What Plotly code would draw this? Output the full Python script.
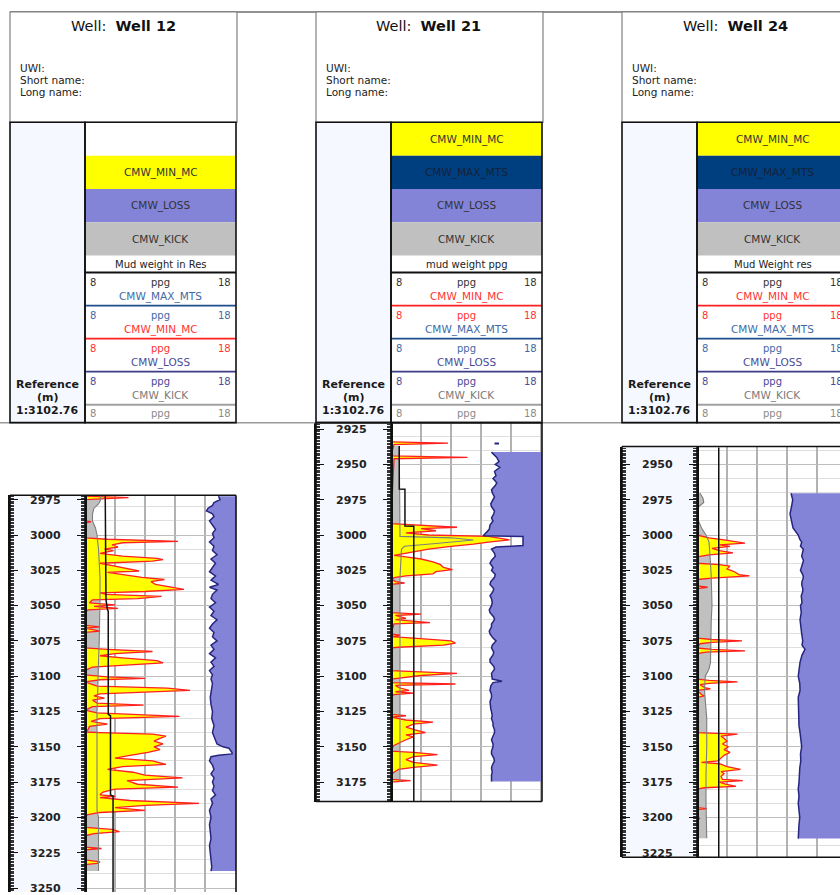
import plotly.graph_objects as go

# ---------------------------------------------------------------- data ----
WELL_NAMES = ["Well 12", "Well 21", "Well 24"]
MUD_TITLES = ["Mud weight in Res", "mud weight ppg", "Mud Weight res"]
FILL_BLOCKS = [
    ["", "CMW_MIN_MC", "CMW_LOSS", "CMW_KICK"],
    ["CMW_MIN_MC", "CMW_MAX_MTS", "CMW_LOSS", "CMW_KICK"],
    ["CMW_MIN_MC", "CMW_MAX_MTS", "CMW_LOSS", "CMW_KICK"],
]
SCALE_CURVES = [
    ["CMW_MAX_MTS", "CMW_MIN_MC", "CMW_LOSS", "CMW_KICK"],
    ["CMW_MIN_MC", "CMW_MAX_MTS", "CMW_LOSS", "CMW_KICK"],
    ["CMW_MIN_MC", "CMW_MAX_MTS", "CMW_LOSS", "CMW_KICK"],
]
SCALE_MIN, SCALE_MAX, SCALE_UNIT = 8, 18, "ppg"
REF_LABEL = ["Reference", "(m)", "1:3102.76"]

# (depth m, ppg) pairs
W12_MIN_MC = [
    (2972.5, 8.0), (2973.5, 10.9), (2975, 8.0), (2990, 8.0), (2990.5, 8.4), (2991.5, 8.0),
    (3002, 8.0), (3003, 9.5), (3004.5, 14.2), (3005.5, 10.5), (3007, 9.8), (3008.5, 10.2),
    (3010, 9.3), (3011, 9.9), (3013, 9.0), (3015, 10.5), (3016.5, 12.8), (3017.5, 13.2),
    (3018.5, 12.5), (3020, 9.0), (3022, 10.0), (3024, 11.0), (3025.5, 11.6), (3026.5, 9.5),
    (3028, 10.5), (3030, 11.8), (3031.5, 13.3), (3033, 12.4), (3035, 12.7), (3036.5, 13.6),
    (3038.5, 14.6), (3040, 12.0), (3041, 9.0), (3042, 9.4), (3043.5, 13.1), (3045, 11.5),
    (3046, 8.5), (3048, 8.3), (3049.5, 10.0), (3050.5, 8.6), (3052, 10.2), (3053, 8.2),
    (3055, 8.0), (3064, 8.0), (3065, 9.0), (3066, 8.0), (3068, 9.0), (3069, 8.0),
    (3080, 8.0), (3081, 9.5), (3082.5, 12.5), (3084, 10.0), (3085.5, 9.0), (3087, 10.5),
    (3089, 12.8), (3090.5, 13.2), (3092, 11.0), (3093.5, 8.5), (3096, 8.0), (3099, 8.0),
    (3100.5, 9.5), (3101.5, 12.0), (3102.5, 9.0), (3104, 8.0), (3107, 8.8), (3108.5, 13.5),
    (3110, 15.0), (3111, 12.5), (3112.5, 9.0), (3114, 8.6), (3115.5, 9.3), (3117, 8.5),
    (3119, 8.8), (3120.5, 11.9), (3121.5, 8.5), (3124, 8.0), (3126, 8.8), (3128.5, 14.3),
    (3130, 9.0), (3132, 8.4), (3134, 9.5), (3135.5, 8.3), (3138, 8.2), (3139.5, 8.0),
    (3140, 9.0), (3141, 12.5), (3142.5, 13.4), (3144, 13.0), (3146, 12.6), (3148, 13.2),
    (3150, 12.6), (3152, 13.0), (3154, 12.2), (3156, 11.0), (3158, 10.0), (3160, 12.5),
    (3162.5, 13.4), (3164, 10.5), (3166, 9.5), (3168, 11.2), (3170, 12.0), (3172, 14.5),
    (3174, 10.8), (3176.5, 11.5), (3178.5, 14.2), (3180, 10.0), (3182, 9.2), (3184, 9.0),
    (3185, 10.0), (3186, 9.0), (3188, 11.0), (3190, 15.6), (3191.5, 12.0), (3193, 10.0),
    (3195, 12.0), (3196.5, 9.0), (3198, 8.2), (3199, 8.0), (3207, 8.0), (3208.5, 9.8),
    (3210, 10.3), (3211.5, 8.6), (3213, 8.0), (3221, 8.0), (3222, 9.1), (3223, 8.0),
    (3230, 8.0), (3231.5, 9.0), (3232.5, 8.8), (3233.5, 8.0), (3238, 8.0),
]
W12_KICK = [
    (2972.5, 9.0), (2975, 9.05), (2978, 8.9), (2981, 8.6), (2985, 8.5), (2990, 8.5),
    (2995, 8.7), (3000, 8.8), (3010, 8.9), (3020, 8.95), (3030, 9.0), (3045, 9.0),
    (3060, 9.0), (3075, 8.95), (3090, 8.9), (3100, 8.85), (3110, 8.85), (3125, 8.8),
    (3140, 8.8), (3160, 8.8), (3180, 8.8), (3195, 8.8), (3200, 8.9), (3215, 8.9),
    (3230, 8.9), (3238, 8.9),
]
W12_LOSS = [
    (2972.5, 16.9), (2975, 17.0), (2977, 16.6), (2979, 16.5), (2981, 16.2), (2983, 16.1),
    (2985, 16.5), (2987, 16.6), (2990, 16.3), (2993, 16.5), (2996, 16.7), (2999, 16.5),
    (3002, 16.6), (3005, 16.3), (3008, 16.6), (3011, 16.5), (3014, 16.8), (3017, 16.4),
    (3020, 16.7), (3023, 16.5), (3026, 16.3), (3029, 16.7), (3032, 16.4), (3035, 16.9),
    (3037, 16.3), (3039, 16.8), (3042, 16.5), (3045, 16.4), (3048, 16.7), (3051, 16.3),
    (3054, 16.6), (3057, 16.4), (3060, 16.8), (3063, 16.5), (3066, 16.3), (3069, 16.6),
    (3072, 16.5), (3075, 16.8), (3078, 16.4), (3081, 16.6), (3084, 16.3), (3087, 16.7),
    (3090, 16.4), (3093, 16.6), (3096, 16.3), (3099, 16.5), (3102, 16.4), (3105, 16.5),
    (3110, 16.4), (3115, 16.35), (3120, 16.4), (3125, 16.5), (3130, 16.45), (3135, 16.6),
    (3140, 16.5), (3145, 16.7), (3148, 16.8), (3150, 17.2), (3151, 17.6), (3154, 17.8),
    (3155, 17.8), (3156, 16.9), (3157, 16.4), (3160, 16.3), (3163, 16.5), (3166, 16.6),
    (3169, 16.4), (3172, 16.6), (3175, 16.5), (3178, 16.6), (3181, 16.5), (3184, 16.7),
    (3187, 16.4), (3190, 16.5), (3195, 16.3), (3200, 16.4), (3205, 16.3), (3210, 16.35),
    (3215, 16.4), (3220, 16.3), (3225, 16.35), (3230, 16.4), (3235, 16.45), (3238, 16.4),
]
W12_MUD = [
    (2972.5, 9.35), (3043.5, 9.35), (3046, 9.4), (3053, 9.5), (3054, 9.55), (3127, 9.55),
    (3128, 9.7), (3184, 9.7), (3185, 9.87), (3254, 9.87),
]

W21_MIN_MC = [
    (2934, 8.0), (2935, 11.8), (2936, 8.2), (2944, 8.0), (2945, 13.1), (2946, 8.2),
    (2992, 8.0), (2993, 9.5), (2994.5, 12.4), (2995.5, 10.0), (2997, 11.0), (2998.5, 9.0),
    (3000, 10.5), (3001, 14.5), (3002.5, 15.5), (3003.5, 15.9), (3005, 14.5), (3006.5, 13.5),
    (3008, 12.0), (3010, 10.5), (3012, 9.5), (3013.5, 8.6), (3014.5, 8.2), (3015.5, 9.0),
    (3017, 10.0), (3019, 10.8), (3021, 11.3), (3023, 11.5), (3024.5, 12.1), (3026, 11.0),
    (3027.5, 10.8), (3029, 9.0), (3030, 8.3), (3031, 8.0), (3033, 8.3), (3034, 8.9),
    (3035, 8.0), (3055, 8.0), (3056, 10.0), (3057, 8.3), (3059, 9.0), (3060, 8.3),
    (3062, 10.6), (3063, 8.2), (3070, 8.0), (3071, 8.6), (3072, 8.0), (3073, 9.5),
    (3074, 11.0), (3075, 12.0), (3076.5, 12.3), (3078, 11.5), (3079.5, 8.5), (3080, 8.0),
    (3096, 8.0), (3097, 10.0), (3098, 12.4), (3099.5, 10.0), (3101, 8.5), (3102, 8.0),
    (3104.5, 8.0), (3105.5, 12.3), (3106.5, 8.3), (3108, 8.5), (3110, 9.2), (3111, 8.3),
    (3112, 9.5), (3113, 8.2), (3114, 8.0), (3127, 8.0), (3128, 9.0), (3129, 8.0),
    (3131, 9.0), (3132.5, 10.8), (3134, 9.5), (3136, 9.0), (3138, 9.6), (3140, 10.3),
    (3141.5, 9.0), (3143, 9.5), (3145, 9.0), (3147, 8.6), (3149, 8.2), (3152, 8.0),
    (3153, 8.0), (3154, 9.5), (3155.5, 11.1), (3157, 9.5), (3159, 9.0), (3161, 9.5),
    (3163, 11.1), (3164.5, 9.5), (3166, 8.5), (3168, 8.2), (3170, 8.0), (3173, 8.0),
    (3174, 9.3), (3175, 8.0),
]
W21_KICK = [
    (2937, 8.55), (2950, 8.55), (2970, 8.6), (2990, 8.6), (3001, 8.6), (3002, 12.0),
    (3003.5, 13.5), (3006, 11.0), (3008, 8.9), (3010, 8.7), (3030, 8.6), (3060, 8.6),
    (3100, 8.6), (3140, 8.6), (3175, 8.6),
]
W21_LOSS = [
    (2941.3, 14.7), (2945, 15.05), (2948, 15.2), (2950, 14.95), (2952, 15.25), (2955, 14.9),
    (2958, 15.0), (2960, 14.8), (2963, 15.05), (2965, 14.95), (2968, 14.7), (2970, 14.75),
    (2973, 14.9), (2975, 14.8), (2978, 14.65), (2980, 14.7), (2983, 14.9), (2985, 14.85),
    (2988, 14.7), (2990, 14.8), (2993, 14.6), (2996, 14.55), (2999, 14.3), (3000.5, 14.15),
    (3001, 16.8), (3007.5, 16.8), (3008.5, 15.0), (3010, 14.7), (3013, 14.9), (3015, 14.95),
    (3018, 14.7), (3020, 14.6), (3023, 14.8), (3025, 14.7), (3028, 14.95), (3030, 14.9),
    (3033, 14.65), (3035, 14.6), (3038, 14.85), (3040, 14.8), (3043, 14.6), (3045, 14.7),
    (3048, 14.75), (3050, 14.7), (3053, 14.55), (3055, 14.6), (3058, 14.85), (3060, 14.9),
    (3063, 14.7), (3065, 14.7), (3068, 14.55), (3070, 14.6), (3073, 14.8), (3075, 15.0),
    (3078, 14.75), (3080, 14.7), (3083, 14.85), (3085, 14.8), (3088, 14.6), (3090, 14.6),
    (3093, 14.85), (3095, 14.9), (3098, 14.7), (3100, 14.7), (3102, 14.75), (3103.5, 15.4),
    (3104.5, 14.8), (3107, 14.65), (3110, 14.6), (3113, 14.7), (3115, 14.7), (3118, 14.6),
    (3120, 14.6), (3123, 14.65), (3125, 14.7), (3128, 14.75), (3130, 14.7), (3133, 14.8),
    (3135, 14.8), (3138, 14.9), (3140, 14.9), (3143, 14.75), (3145, 14.7), (3148, 14.8),
    (3150, 14.8), (3153, 14.7), (3155, 14.7), (3158, 14.85), (3160, 14.9), (3163, 14.75),
    (3165, 14.7), (3168, 14.75), (3170, 14.7), (3174.6, 14.7),
]
W21_LOSS_STUB = [(2935.2, 14.9), (2935.2, 15.2)]
W21_MUD = [
    (2937, 8.55), (2967.5, 8.55), (2967.6, 8.93), (2993.7, 8.93), (2993.8, 9.52), (3189, 9.52),
]

W24_MIN_MC = [
    (3000, 8.0), (3002, 8.8), (3003.5, 9.8), (3005.8, 11.2), (3007, 9.5), (3008, 10.2),
    (3009.5, 9.0), (3011, 9.5), (3012.7, 10.4), (3014, 8.8), (3015.5, 8.0), (3020, 8.0),
    (3021, 9.5), (3022, 10.2), (3024, 10.0), (3026, 10.5), (3028, 10.8), (3029, 11.5),
    (3030.5, 9.0), (3031.5, 8.0), (3036, 8.0), (3037, 8.7), (3038, 8.0), (3073, 8.0),
    (3074, 9.0), (3075, 11.0), (3076, 9.0), (3077, 8.2), (3080, 8.0), (3081, 9.0),
    (3082, 11.2), (3083, 8.6), (3084, 8.0), (3102, 8.0), (3103, 8.8), (3104, 10.7),
    (3105, 8.8), (3106, 8.2), (3108, 8.5), (3109, 8.9), (3110, 8.0), (3113, 8.3),
    (3114, 8.5), (3115, 8.0), (3129.5, 8.0), (3130, 8.1), (3130.5, 8.0), (3140, 8.0),
    (3141, 10.7), (3142.5, 9.6), (3144, 9.8), (3146, 10.0), (3148, 9.7), (3150, 10.1),
    (3152, 9.8), (3154, 10.2), (3156, 9.8), (3158, 9.6), (3160, 9.4), (3161, 8.3),
    (3162, 9.5), (3164, 10.0), (3166, 10.9), (3167.5, 9.6), (3169, 9.8), (3171, 9.6),
    (3173, 9.7), (3174, 11.05), (3175, 9.5), (3176.5, 9.9), (3178, 10.6), (3179, 8.5),
    (3180, 8.0), (3193, 8.0), (3193.7, 8.65), (3194.5, 8.0), (3200, 8.0), (3200.7, 8.2),
    (3201.5, 8.0),
]
W24_KICK = [
    (2970.4, 8.2), (2974, 8.4), (2977, 8.45), (2980, 8.1), (2985, 8.05), (2990, 8.1),
    (2995, 8.3), (3000, 8.6), (3005, 8.8), (3010, 8.85), (3020, 8.9), (3030, 8.95),
    (3040, 9.0), (3050, 9.0), (3060, 8.95), (3070, 8.95), (3080, 8.95), (3090, 8.9),
    (3095, 8.8), (3100, 8.55), (3110, 8.5), (3120, 8.6), (3130, 8.65), (3150, 8.65),
    (3170, 8.6), (3190, 8.6), (3200, 8.6), (3210, 8.65), (3214.8, 8.65),
]
W24_LOSS = [
    (2970.4, 14.27), (2975, 14.38), (2980, 14.3), (2985, 14.2), (2990, 14.3), (2995, 14.4),
    (3000, 14.75), (3003, 14.85), (3005, 14.98), (3008, 14.9), (3010, 15.09), (3013, 15.0),
    (3015, 14.98), (3018, 15.1), (3020, 15.05), (3023, 14.95), (3025, 14.9), (3028, 15.05),
    (3030, 15.09), (3033, 15.0), (3035, 14.98), (3038, 15.05), (3040, 15.05), (3043, 14.95),
    (3045, 14.98), (3048, 15.0), (3050, 14.9), (3055, 14.95), (3060, 14.87), (3065, 14.95),
    (3070, 14.98), (3075, 15.05), (3078, 15.0), (3081, 15.2), (3085, 15.0), (3090, 14.87),
    (3095, 14.8), (3100, 14.75), (3105, 14.85), (3110, 14.87), (3115, 14.75), (3120, 14.75),
    (3125, 14.8), (3130, 14.75), (3135, 14.8), (3140, 14.87), (3145, 14.9), (3150, 14.98),
    (3155, 14.9), (3160, 14.92), (3165, 14.85), (3170, 14.85), (3175, 14.8), (3180, 14.75),
    (3185, 14.8), (3190, 14.75), (3195, 14.78), (3200, 14.85), (3205, 14.8), (3210, 14.75),
    (3215, 14.75),
]
W24_MUD = [(2938, 9.45), (3229, 9.45)]

WELL_CURVES = [
    dict(min_mc=W12_MIN_MC, kick=W12_KICK, loss=W12_LOSS, mud=W12_MUD, stub=None),
    dict(min_mc=W21_MIN_MC, kick=W21_KICK, loss=W21_LOSS, mud=W21_MUD, stub=W21_LOSS_STUB),
    dict(min_mc=W24_MIN_MC, kick=W24_KICK, loss=W24_LOSS, mud=W24_MUD, stub=None),
]

# -------------------------------------------------------------- styling ----
W, H = 840, 895
PX_PER_M = 1.42          # vertical log scale
Y_3000 = 536.0           # screen row of the 3000 m reference depth
PX_PER_PPG = 15.0
WELL_STEP = 306
TRACK_TOPS = [496, 423, 447]
TRACK_BOTTOMS = [895, 804, 860]
FONT = "DejaVu Sans"

FILL_COLOR = {"CMW_MIN_MC": "#ffff00", "CMW_MAX_MTS": "#003f7f",
              "CMW_LOSS": "#8383d7", "CMW_KICK": "#c0c0c0"}
BLOCK_TEXT = {"CMW_MIN_MC": "#333333", "CMW_MAX_MTS": "#14223a",
              "CMW_LOSS": "#333333", "CMW_KICK": "#333333"}
CURVE_TEXT = {"CMW_MIN_MC": "#ff3333", "CMW_MAX_MTS": "#3f6aa5",
              "CMW_LOSS": "#4b4b98", "CMW_KICK": "#7a7a7a"}
CURVE_LINE = {"CMW_MIN_MC": "#ff2020", "CMW_MAX_MTS": "#1f4e8c",
              "CMW_LOSS": "#3c3c88", "CMW_KICK": "#a0a0a0"}
DEPTH_BG = "#f5f8fe"


def fx(px):
    return px / W


def fy(py):
    return 1 - py / H


def depth_at(py):
    return 3000 + (py - Y_3000) / PX_PER_M


def unzip(pairs):
    return [p[0] for p in pairs], [p[1] for p in pairs]


fig = go.Figure()
shapes, anns = [], []


def text(x, y, s, size, color, xanchor="center", bold=False):
    anns.append(dict(x=fx(x), y=fy(y), xref="paper", yref="paper", text=s,
                     showarrow=False, xanchor=xanchor, yanchor="middle", borderpad=0,
                     font=dict(family=FONT, size=size, color=color,
                               weight="bold" if bold else "normal")))


def hline(x0, x1, y, color, width=1.5):
    shapes.append(dict(type="line", xref="paper", yref="paper", x0=fx(x0), x1=fx(x1),
                       y0=fy(y), y1=fy(y), line=dict(color=color, width=width), layer="above"))


def vline(x, y0, y1, color, width=1.5):
    shapes.append(dict(type="line", xref="paper", yref="paper", x0=fx(x), x1=fx(x),
                       y0=fy(y0), y1=fy(y1), line=dict(color=color, width=width), layer="above"))


def rect(x0, x1, y0, y1, fill, line_color=None, width=1.5, layer="below"):
    shapes.append(dict(type="rect", xref="paper", yref="paper", x0=fx(x0), x1=fx(x1),
                       y0=fy(y1), y1=fy(y0), fillcolor=fill,
                       line=dict(color=line_color or "rgba(0,0,0,0)",
                                 width=width if line_color else 0), layer=layer))


# page frame lines
hline(10, 840, 10, "#6e6e6e", 1.5)
hline(0, 840, 423, "#9a9a9a", 1.5)

layout_axes = {}
for i, name in enumerate(WELL_NAMES):
    x0 = 10 + WELL_STEP * i
    xd = x0 + 75
    xr = x0 + 226
    xc = (xd + xr) / 2

    # ---- well title box
    rect(x0, x0 + 227, 10, 121, "white", "#808080", 1.2, layer="above")
    text(x0 + 113, 24, "Well:  <b>%s</b>" % name, 14.5, "#111111")
    for k, lab in enumerate(["UWI:", "Short name:", "Long name:"]):
        text(x0 + 9, 66 + 12.5 * k, lab, 10.5, "#222222", xanchor="left")

    # ---- legend header
    rect(x0, xd, 121, 423, DEPTH_BG)
    for k, lab in enumerate(REF_LABEL):
        text((x0 + xd) / 2, [384.5, 397.5, 410.5][k], lab, 11, "#1a1a1a", bold=True)
    for k, blk in enumerate(FILL_BLOCKS[i]):
        top = 121 + 33.5 * k
        if blk:
            rect(xd, xr, top, top + 33.5, FILL_COLOR[blk])
            text(xc, top + 17, blk, 10.5, BLOCK_TEXT[blk])
    text(xc, 263.5, MUD_TITLES[i], 10, "#222222")
    hline(xd, xr, 272, "#111111", 2)
    prev = "#333333"
    for k, cname in enumerate(SCALE_CURVES[i]):
        top = 272 + 33.25 * k
        text(xd + 4, top + 10, str(SCALE_MIN), 10, prev, xanchor="left")
        text(xc, top + 10, SCALE_UNIT, 10, prev)
        text(xr - 4, top + 10, str(SCALE_MAX), 10, prev, xanchor="right")
        text(xc, top + 24, cname, 10.5, CURVE_TEXT[cname])
        hline(xd, xr, top + 33.25, CURVE_LINE[cname], 1.8)
        prev = CURVE_TEXT[cname]
    text(xd + 4, 414, str(SCALE_MIN), 10, "#8a8a8a", xanchor="left")
    text(xc, 414, SCALE_UNIT, 10, "#8a8a8a")
    text(xr - 4, 414, str(SCALE_MAX), 10, "#8a8a8a", xanchor="right")
    rect(x0, xd, 121, 423, "rgba(0,0,0,0)", "#111111", 1.6, layer="above")
    rect(xd, xr, 121, 423, "rgba(0,0,0,0)", "#111111", 1.6, layer="above")

    # ---- log tracks
    top, bot = TRACK_TOPS[i], TRACK_BOTTOMS[i]
    d_top, d_bot = depth_at(top), depth_at(bot)
    right_px = min(xr, W)
    x_hi = SCALE_MIN + (right_px - xd) / PX_PER_PPG
    ydom = [fy(bot), fy(top)]

    n = i + 1           # data track axes
    m = i + 4           # depth track axes (ticks)
    q = i + 7           # depth track labels
    sfx = lambda j: "" if j == 1 else str(j)

    layout_axes["xaxis" + sfx(n)] = dict(
        domain=[fx(xd), fx(right_px)], range=[SCALE_MIN, x_hi], anchor="y" + sfx(n),
        showgrid=True, gridcolor="#b2b2b2", gridwidth=1.6, dtick=2, tick0=0,
        showticklabels=False, ticks="", zeroline=False, showline=False)
    layout_axes["yaxis" + sfx(n)] = dict(
        domain=ydom, range=[d_bot, d_top], anchor="x" + sfx(n),
        showgrid=True, gridcolor="#bdbdbd", gridwidth=1.4, dtick=50, tick0=0,
        minor=dict(dtick=10, tick0=0, showgrid=True, gridcolor="#dedede", gridwidth=1.4),
        showticklabels=False, ticks="", zeroline=False, showline=False)

    layout_axes["xaxis" + sfx(m)] = dict(
        domain=[fx(x0), fx(xd)], range=[0, 1], anchor="y" + sfx(m), visible=False)
    layout_axes["yaxis" + sfx(m)] = dict(
        domain=ydom, range=[d_bot, d_top], anchor="x" + sfx(m), side="left",
        showline=True, linecolor="#111111", linewidth=1.6, mirror="ticks",
        ticks="inside", ticklen=8, tickwidth=1.2, tickcolor="#111111",
        dtick=25, tick0=0, showgrid=False, zeroline=False, showticklabels=False,
        minor=dict(dtick=1, tick0=0, ticks="inside", ticklen=4, tickwidth=1,
                   tickcolor="#333333", showgrid=False))
    # depth numbers sit inside the depth column
    layout_axes["yaxis" + sfx(q)] = dict(
        overlaying="y" + sfx(m), range=[d_bot, d_top], anchor="free",
        position=fx(x0 + 19), side="right", showline=False, ticks="",
        dtick=25, tick0=0, showgrid=False, zeroline=False, ticklabeloverflow="allow",
        tickfont=dict(family=FONT, size=11, color="#222222", weight="bold"))

    rect(x0, xd, top, bot, DEPTH_BG)
    # track frame
    vline(x0, top, bot, "#111111", 1.6)
    vline(xd, top, bot, "#111111", 1.6)
    vline(xr, top, bot, "#111111", 1.6)
    hline(x0, xr, top, "#111111", 1.6)
    if bot < H:
        hline(x0, xr, bot, "#111111", 1.6)

    xa, ya = "x" + sfx(n), "y" + sfx(n)
    curves = WELL_CURVES[i]

    # invisible anchor traces for the depth scale axes
    fig.add_trace(go.Scatter(x=[None], y=[None], xaxis="x" + sfx(m), yaxis="y" + sfx(m),
                             showlegend=False, hoverinfo="skip"))
    fig.add_trace(go.Scatter(x=[None], y=[None], xaxis="x" + sfx(m), yaxis="y" + sfx(q),
                             showlegend=False, hoverinfo="skip"))

    kd, kv = unzip(curves["kick"])
    fig.add_trace(go.Scatter(x=kv, y=kd, xaxis=xa, yaxis=ya, mode="lines",
                             fill="tozerox", fillcolor=FILL_COLOR["CMW_KICK"],
                             line=dict(width=0, color="rgba(0,0,0,0)"),
                             showlegend=False, hoverinfo="skip"))
    md, mv = unzip(curves["min_mc"])
    fig.add_trace(go.Scatter(x=mv, y=md, xaxis=xa, yaxis=ya, mode="lines",
                             fill="tozerox", fillcolor=FILL_COLOR["CMW_MIN_MC"],
                             line=dict(width=1.3, color=CURVE_LINE["CMW_MIN_MC"]),
                             showlegend=False, hoverinfo="skip"))
    fig.add_trace(go.Scatter(x=kv, y=kd, xaxis=xa, yaxis=ya, mode="lines",
                             line=dict(width=1.1, color="#7d7d7d"),
                             showlegend=False, hoverinfo="skip"))
    ld, lv = unzip(curves["loss"])
    fig.add_trace(go.Scatter(x=lv + [SCALE_MAX + 1, SCALE_MAX + 1], y=ld + [ld[-1], ld[0]],
                             xaxis=xa, yaxis=ya, mode="lines", fill="toself",
                             fillcolor=FILL_COLOR["CMW_LOSS"],
                             line=dict(width=0, color="rgba(0,0,0,0)"),
                             showlegend=False, hoverinfo="skip"))
    fig.add_trace(go.Scatter(x=lv, y=ld, xaxis=xa, yaxis=ya, mode="lines",
                             line=dict(width=1.5, color="#262680"),
                             showlegend=False, hoverinfo="skip"))
    if curves["stub"]:
        sd, sv = unzip(curves["stub"])
        fig.add_trace(go.Scatter(x=sv, y=sd, xaxis=xa, yaxis=ya, mode="lines",
                                 line=dict(width=2, color="#262680"),
                                 showlegend=False, hoverinfo="skip"))
    ud, uv = unzip(curves["mud"])
    fig.add_trace(go.Scatter(x=uv, y=ud, xaxis=xa, yaxis=ya, mode="lines",
                             line=dict(width=1.5, color="#111111"),
                             showlegend=False, hoverinfo="skip"))

fig.update_layout(
    width=W, height=H, margin=dict(l=0, r=0, t=0, b=0),
    paper_bgcolor="white", plot_bgcolor="white", showlegend=False,
    shapes=shapes, annotations=anns, **layout_axes)

fig.write_html("out.html")
